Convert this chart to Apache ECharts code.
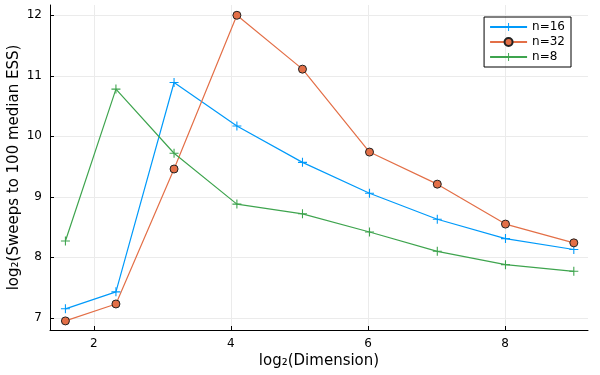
<!DOCTYPE html>
<html><head><meta charset="utf-8">
<script src="https://cdn.jsdelivr.net/npm/echarts@6/dist/echarts.min.js"></script>
<style>html,body{margin:0;padding:0;background:#fff}#c{width:600px;height:375px}</style>
</head><body><div id="c"></div>
<script>
const xVals = [1.585, 2.322, 3.170, 4.087, 5.044, 6.022, 7.011, 8.006, 9.003];
const n16 = [7.15, 7.43, 10.89, 10.17, 9.57, 9.06, 8.63, 8.31, 8.13];
const n32 = [6.95, 7.23, 9.46, 12.00, 11.11, 9.74, 9.21, 8.55, 8.24];
const n8  = [8.27, 10.78, 9.72, 8.88, 8.72, 8.42, 8.10, 7.88, 7.77];
const xTicks = [2, 4, 6, 8];
const yTicks = [7, 8, 9, 10, 11, 12];

const plus = 'path://M4.4,0h1.2v4.4h4.4v1.2h-4.4v4.4h-1.2v-4.4h-4.4v-1.2h4.4z';
const zip = (ys) => xVals.map((x, i) => [x, ys[i]]);
const font = 'DejaVu Sans';
const chart = echarts.init(document.getElementById('c'), null, {renderer: 'canvas'});
chart.setOption({
  animation: false,
  backgroundColor: '#fff',
  textStyle: {fontFamily: font},
  grid: {left: 50, right: 12, top: 5, bottom: 45, containLabel: false, outerBoundsMode: 'none'},
  legend: {
    right: 29, top: 17, orient: 'vertical',
    borderColor: '#000', borderWidth: 1, padding: [4, 6, 4, 5],
    itemWidth: 37, itemHeight: 10, itemGap: 3,
    textStyle: {fontFamily: font, fontSize: 12, color: '#000'},
    data: ['n=16', 'n=32', 'n=8']
  },
  xAxis: {
    type: 'value', min: 1.36, max: 9.21,
    name: 'log₂(Dimension)', nameLocation: 'middle', nameGap: 24, nameMoveOverlap: false,
    nameTextStyle: {fontSize: 15, color: '#000', fontFamily: font},
    axisLine: {show: true, onZero: false, lineStyle: {color: '#000', width: 1}},
    axisTick: {show: true, inside: true, length: 4, customValues: xTicks, lineStyle: {color: '#000'}},
    axisLabel: {customValues: xTicks, fontSize: 12, color: '#000', margin: 8},
    splitLine: {show: true, lineStyle: {color: '#ebebeb', width: 1}}
  },
  yAxis: {
    type: 'value', min: 6.8, max: 12.17,
    name: 'log₂(Sweeps to 100 median ESS)', nameLocation: 'middle', nameGap: 28, nameRotate: 90,
    nameMoveOverlap: false,
    nameTextStyle: {fontSize: 15, color: '#000', fontFamily: font},
    axisLine: {show: true, onZero: false, lineStyle: {color: '#000', width: 1}},
    axisTick: {show: true, inside: true, length: 4, customValues: yTicks, lineStyle: {color: '#000'}},
    axisLabel: {customValues: yTicks, fontSize: 12, color: '#000', margin: 8},
    splitLine: {show: true, lineStyle: {color: '#ebebeb', width: 1}}
  },
  series: [
    {name: 'n=16', type: 'line', data: zip(n16), symbol: plus, symbolSize: 9,
     lineStyle: {color: '#009AFA', width: 1.2}, itemStyle: {color: '#009AFA'}},
    {name: 'n=32', type: 'line', data: zip(n32), symbol: 'circle', symbolSize: 8,
     lineStyle: {color: '#E36F47', width: 1.2}, itemStyle: {color: '#E36F47', borderColor: '#222', borderWidth: 1}},
    {name: 'n=8', type: 'line', data: zip(n8), symbol: plus, symbolSize: 9,
     lineStyle: {color: '#3EA44E', width: 1.2}, itemStyle: {color: '#3EA44E'}}
  ]
});
</script></body></html>
